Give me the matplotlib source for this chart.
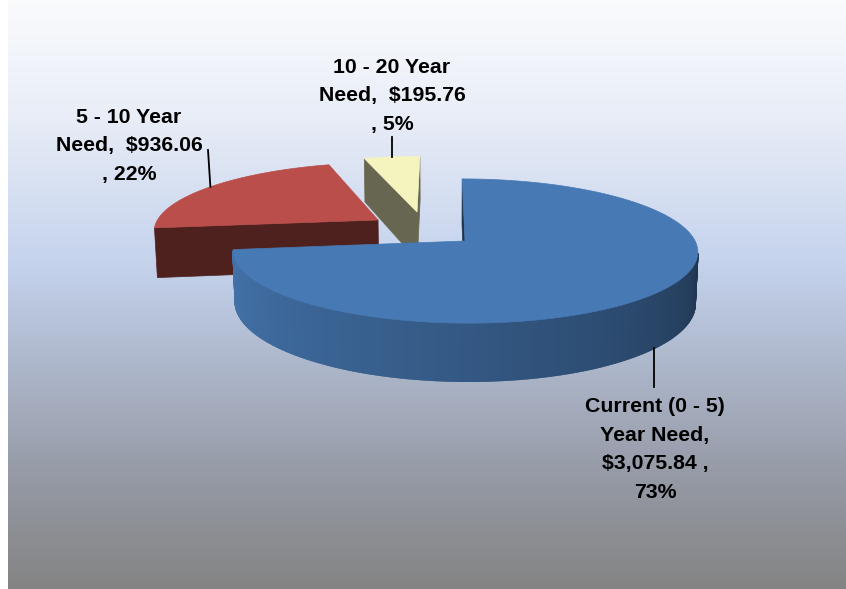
import matplotlib
matplotlib.use("Agg")
import matplotlib.pyplot as plt
import numpy as np
from matplotlib.colors import LinearSegmentedColormap, to_rgb
from matplotlib.patches import Polygon

# ---------------- data ----------------
categories = ["Current (0 - 5) Year Need", "5 - 10 Year Need", "10 - 20 Year Need"]
values = [3075.84, 936.06, 195.76]
label_formats = [
    "Current (0 - 5)\nYear Need,\n\\${:,.2f} ,\n{:.0f}%",
    "5 - 10 Year\nNeed,  \\${:,.2f}\n, {:.0f}%",
    "10 - 20 Year\nNeed,  \\${:,.2f}\n, {:.0f}%",
]
top_colors = ["#4779b4", "#b94e4a", "#f6f4be"]

# ---------------- 3d look (camera + explode) ----------------
PHI = np.radians(17.9)      # elevation of the view
DIST = 6.85                 # camera distance in pie radii
FOCAL = 1576.0
CAM_X = -0.1
ORIGIN_X, ORIGIN_Y = 442.0, 241.0
THICK = 0.235               # pie height in radii
explode = [(0.0, 0.0), (-0.39, 0.31), (-0.215, 0.435)]   # (x, depth) offset of each slice
label_pos = [(655, 498), (129, 180), (392, 130)]          # last-line baseline of each label
leader_end = [(None, 387), (208, 150), (None, 137)]

cam = np.array([CAM_X, DIST * np.sin(PHI), -DIST * np.cos(PHI)])


def project(x, y, w):
    d = DIST + w * np.cos(PHI) - y * np.sin(PHI)
    sx = ORIGIN_X + FOCAL * (x - CAM_X) / d
    sy = ORIGIN_Y - FOCAL * (y * np.cos(PHI) + w * np.sin(PHI)) / d
    return sx, sy


def shade(color, f):
    return tuple(np.clip(np.array(to_rgb(color)) * f, 0, 1))


def facing(normal_angle, point):
    n = np.array([np.cos(normal_angle), 0.0, np.sin(normal_angle)])
    return np.dot(n, cam - np.array(point)) > 0


fig = plt.figure(figsize=(8.46, 5.89), dpi=100, facecolor="white")
ax = fig.add_axes([0, 0, 1, 1])
ax.set_xlim(0, 846)
ax.set_ylim(589, 0)
ax.axis("off")

# background gradient
bg_stops = [0.0, 0.2, 0.45, 0.62, 0.8, 1.0]
bg_colors = ["#fafbfd", "#e8edf7", "#c4d2ec", "#adb7cb", "#969ba7", "#848484"]
bg_cmap = LinearSegmentedColormap.from_list("bg", list(zip(bg_stops, bg_colors)))
grad = np.linspace(0, 1, 589).reshape(-1, 1)
ax.imshow(grad, cmap=bg_cmap, extent=(8, 846, 589, 0), aspect="auto", zorder=0)

total = sum(values)
fracs = np.array(values) / total
cum = np.concatenate([[0], np.cumsum(fracs)])
starts = np.radians(90 - 360 * cum[:-1])   # slices go clockwise from 12 o'clock
ends = np.radians(90 - 360 * cum[1:])

# back slices first
order = sorted(range(len(values)), key=lambda i: -explode[i][1])
z = 2
for i in order:
    xa, wa = explode[i]
    col = top_colors[i]
    th = np.linspace(ends[i], starts[i], max(int(np.degrees(starts[i] - ends[i])) * 2, 8))
    ax_x = xa + np.cos(th)
    ax_w = wa + np.sin(th)
    tx, ty = project(ax_x, 0.0, ax_w)
    bx, by = project(ax_x, -THICK, ax_w)
    apx, apy = project(xa, 0.0, wa)
    abx, aby = project(xa, -THICK, wa)

    # radial faces
    for edge, nang in ((starts[i], starts[i] + np.pi / 2), (ends[i], ends[i] - np.pi / 2)):
        if facing(nang, (xa, 0.0, wa)):
            ex, ey = project(xa + np.cos(edge), 0.0, wa + np.sin(edge))
            ebx, eby = project(xa + np.cos(edge), -THICK, wa + np.sin(edge))
            c = shade(col, 0.42)
            ax.add_patch(Polygon([(apx, apy), (ex, ey), (ebx, eby), (abx, aby)],
                                 closed=True, fc=c, ec=c, lw=0.5, zorder=z))
    z += 1
    # outer wall
    for k in range(len(th) - 1):
        tm = 0.5 * (th[k] + th[k + 1])
        if not facing(tm, (xa + np.cos(tm), 0.0, wa + np.sin(tm))):
            continue
        deg = np.degrees(tm) % 360
        if deg < 90:
            deg += 360
        f = 0.40 + 0.57 * np.clip((360 - deg) / 180, 0, 1) ** 0.8
        c = shade(col, f)
        ax.add_patch(Polygon([(tx[k], ty[k]), (tx[k + 1], ty[k + 1]),
                              (bx[k + 1], by[k + 1]), (bx[k], by[k])],
                             closed=True, fc=c, ec=c, lw=1.2, zorder=z))
    z += 1
    # top face
    pts = [(apx, apy)] + list(zip(tx, ty))
    ax.add_patch(Polygon(pts, closed=True, fc=col, ec=col, lw=0.5, zorder=z))
    z += 1

# labels and leader lines
for i in range(len(values)):
    xa, wa = explode[i]
    mid = 0.5 * (starts[i] + ends[i])
    if i == 0:
        sx, sy = project(xa + np.cos(mid), -THICK, wa + np.sin(mid))
    else:
        sx, sy = project(xa + np.cos(mid), 0.0, wa + np.sin(mid))
    exx, eyy = leader_end[i]
    if exx is None:
        exx = sx
    ax.plot([sx, exx], [sy, eyy], color="black", lw=1.3, zorder=20)
    txt = label_formats[i].format(values[i], fracs[i] * 100)
    ax.text(label_pos[i][0], label_pos[i][1], txt, ha="center", va="baseline",
            multialignment="center", fontsize=15.3, fontweight="bold",
            family=["Liberation Sans", "DejaVu Sans"], linespacing=1.64,
            color="black", zorder=21)

fig.savefig("out.png", dpi=100, facecolor="white")
